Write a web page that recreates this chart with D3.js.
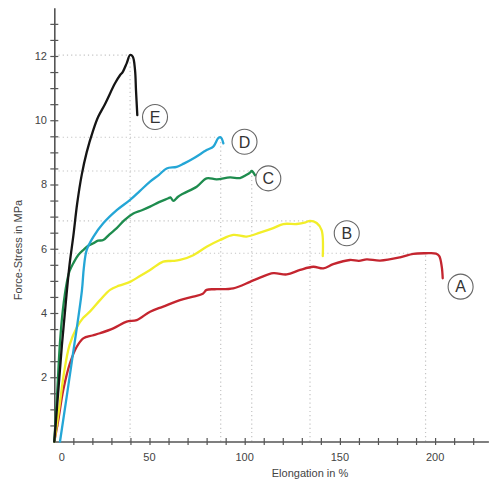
<!DOCTYPE html>
<html>
<head>
<meta charset="utf-8">
<script src="https://cdn.jsdelivr.net/npm/d3@7"></script>
<style>
  body { margin: 0; background: #fff; }
  text { font-family: "Liberation Sans", Arial, sans-serif; fill: #444; }
</style>
</head>
<body>
<div id="graf"></div>
<script>
// elongation (%) , stress (MPa) pairs
const curveA = [[0,0],[2.1,0.67],[4.7,1.6],[8.2,2.43],[11.8,2.95],[15.2,3.21],[20,3.3],[24,3.37],[31,3.52],[38,3.73],[43.3,3.78],[50.3,4.04],[57.2,4.2],[66,4.4],[73,4.51],[78,4.6],[80,4.72],[85.3,4.74],[94,4.77],[102.8,4.97],[108,5.1],[115,5.24],[122.1,5.2],[129.1,5.34],[136,5.44],[141.3,5.39],[146.5,5.52],[155.3,5.65],[160,5.62],[164.1,5.67],[171.1,5.63],[181.6,5.73],[188.5,5.84],[195,5.86],[200.5,5.85],[202.2,5.77],[203.5,5.44],[204,5.08]];
const curveB = [[0,0],[2.5,1.0],[5,2.1],[8,3.0],[11.8,3.55],[15.2,3.85],[18.8,4.05],[24,4.4],[29.3,4.72],[34,4.85],[39.8,4.97],[45,5.15],[50.3,5.34],[57.2,5.6],[62,5.62],[66,5.65],[73,5.8],[80,6.06],[87,6.27],[94,6.43],[101,6.38],[108,6.5],[115,6.64],[120.3,6.77],[127.3,6.77],[132,6.82],[134.3,6.87],[137.8,6.8],[140.4,6.58],[141,5.77]];
const curveC = [[0,0],[1.5,1.5],[3,3.1],[4.5,4.1],[6.5,4.93],[8,5.3],[10,5.55],[12.5,5.8],[15.2,5.96],[18,6.1],[20.5,6.17],[23,6.25],[25.7,6.27],[29,6.45],[32.8,6.64],[37,6.9],[41.5,7.1],[46,7.2],[50.3,7.31],[55,7.45],[59.9,7.57],[61,7.6],[62.5,7.49],[65,7.62],[67.8,7.72],[74.8,7.93],[80,8.19],[85.3,8.16],[92.3,8.22],[97.5,8.2],[101,8.3],[102.8,8.37],[103.7,8.42],[105.4,8.29]];
const curveD = [[3,0],[9,2.4],[14.5,4.7],[15.5,5.4],[17,5.96],[20.5,6.37],[25.7,6.79],[32.8,7.2],[39.8,7.52],[45,7.8],[50.3,8.09],[55,8.3],[59,8.5],[64.3,8.55],[68,8.65],[73,8.81],[80,9.07],[83.5,9.18],[86.1,9.44],[87.4,9.47],[88.8,9.28]];
const curveE = [[0,0],[2,1.5],[4,3.0],[6,4.3],[8,5.5],[10,6.4],[12,7.4],[14.4,8.3],[17,9.0],[20.5,9.7],[23,10.1],[26.6,10.5],[31.9,11.15],[34.5,11.4],[35.9,11.5],[38,11.77],[39.8,12.03],[41.2,11.98],[42.4,11.56],[42.9,10.94],[43.6,10.16]];

const names = ["A", "B", "C", "D", "E"];
const curves = [curveA, curveB, curveC, curveD, curveE];
const colors = ["#c4252f", "#f2ee2a", "#1e8c4e", "#24a6d6", "#151515"];
// where the circled letters sit, in data units
const labelX = [213.4, 153.6, 112.4, 99.9, 52.9];
const labelY = [4.82, 6.48, 8.19, 9.33, 10.1];

const xLabels = [0, 50, 100, 150, 200];
const yLabels = [2, 4, 6, 8, 10, 12];

const ancho_total = 489;
const alto_total = 479;

const svg = d3.select("#graf")
  .append("svg")
  .attr("width", ancho_total)
  .attr("height", alto_total);

const x = d3.scaleLinear().domain([0, 228]).range([54.3, 488.4]);
const y = d3.scaleLinear().domain([0, 13.5]).range([441.5, 7.8]);

// dotted guides to each curve's peak
const grid = svg.append("g");
curves.forEach((c) => {
  const p = c[d3.maxIndex(c, (d) => d[1])];
  grid.append("line")
    .attr("x1", x(0)).attr("x2", x(p[0]))
    .attr("y1", y(p[1])).attr("y2", y(p[1]));
  grid.append("line")
    .attr("x1", x(p[0])).attr("x2", x(p[0]))
    .attr("y1", y(0)).attr("y2", y(p[1]));
});
grid.selectAll("line")
  .attr("stroke", "#c4c4c4")
  .attr("stroke-width", 1.2)
  .attr("stroke-dasharray", "1.2,3");

// axes
const xAxis = svg.append("g")
  .attr("transform", `translate(0,${y(0)})`)
  .call(d3.axisBottom(x).tickValues(d3.range(10, 230, 10)).tickSize(0).tickFormat(""));
xAxis.selectAll(".tick line").attr("y1", -3.5).attr("y2", 3.5);

const yAxis = svg.append("g")
  .attr("transform", `translate(${x(0)},0)`)
  .call(d3.axisLeft(y).tickValues(d3.range(0.5, 13.5, 0.5)).tickSize(0).tickFormat(""));
yAxis.selectAll(".tick line").attr("x1", -4).attr("x2", 4);

svg.selectAll(".domain").attr("stroke", "#555").attr("stroke-width", 1.6);
svg.selectAll(".tick line").attr("stroke", "#555").attr("stroke-width", 1.2);

svg.append("g").selectAll("text")
  .data(xLabels)
  .join("text")
  .attr("x", (d) => x(d) + (d === 0 ? 7.5 : 0))
  .attr("y", 461)
  .attr("text-anchor", "middle")
  .attr("font-size", 11)
  .text((d) => d);

svg.append("g").selectAll("text")
  .data(yLabels)
  .join("text")
  .attr("x", 47)
  .attr("y", (d) => y(d) + 4)
  .attr("text-anchor", "end")
  .attr("font-size", 11)
  .text((d) => d);

svg.append("text")
  .attr("x", 310)
  .attr("y", 477)
  .attr("text-anchor", "middle")
  .attr("font-size", 11)
  .text("Elongation in %");

svg.append("text")
  .attr("transform", "translate(22,250) rotate(-90)")
  .attr("text-anchor", "middle")
  .attr("font-size", 11)
  .text("Force-Stress in MPa");

// curves
const line = d3.line()
  .x((d) => x(d[0]))
  .y((d) => y(d[1]))
  .curve(d3.curveCatmullRom.alpha(0.5));

svg.append("g").selectAll("path")
  .data(curves)
  .join("path")
  .attr("d", line)
  .attr("fill", "none")
  .attr("stroke", (d, i) => colors[i])
  .attr("stroke-width", 2.3)
  .attr("stroke-linejoin", "round")
  .attr("stroke-linecap", "round");

// circled letters
const tags = svg.append("g").selectAll("g")
  .data(names)
  .join("g")
  .attr("transform", (d, i) => `translate(${x(labelX[i])},${y(labelY[i])})`);

tags.append("circle")
  .attr("r", 12.5)
  .attr("fill", "#fff")
  .attr("stroke", "#666")
  .attr("stroke-width", 1.1);

tags.append("text")
  .attr("text-anchor", "middle")
  .attr("dy", "0.36em")
  .attr("font-size", 16)
  .style("fill", "#333")
  .text((d) => d);
</script>
</body>
</html>
